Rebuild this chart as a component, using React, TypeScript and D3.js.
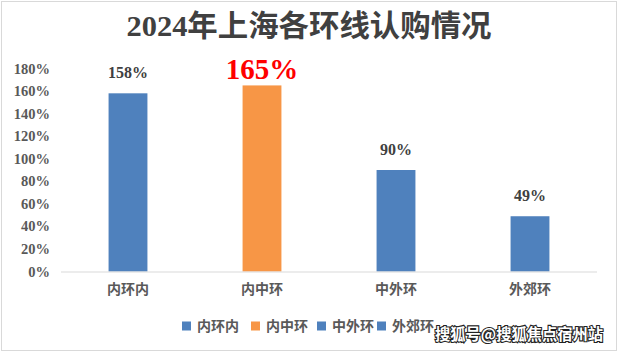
import React from "react";
import * as d3 from "d3";

const title = "2024年上海各环线认购情况";
const categories = ["内环内", "内中环", "中外环", "外郊环"];
const values = [158, 165, 90, 49];
const barColors = ["#4f81bd", "#f79646", "#4f81bd", "#4f81bd"];
const yTicks = [0, 20, 40, 60, 80, 100, 120, 140, 160, 180];
const watermark = "搜狐号@搜狐焦点宿州站";

const W = 618;
const H = 352;
const serif = "'Liberation Serif', 'Times New Roman', 'Noto Sans CJK SC', serif";
const cjk = "'Noto Sans CJK SC', sans-serif";

const App = () => {
  const x = d3.scaleBand()
    .domain(categories)
    .range([61, 597])
    .paddingInner(0.71)
    .paddingOuter(0.355);

  const y = d3.scaleLinear()
    .domain([0, 180])
    .range([271.5, 68.5]);

  const legendX = [182, 251, 317, 377];

  return (
    <svg width={W} height={H} style={{ position: "absolute", left: 0, top: 0 }}>
      <rect x={0} y={0} width={W} height={H} fill="#fff" />
      <rect x={1.5} y={1.5} width={W - 3} height={H - 3} fill="none" stroke="#d9d9d9" />

      <text x={309} y={35.5} textAnchor="middle" fontFamily={serif} fontWeight="bold"
        fontSize={30} fill="#404040" textLength={365} lengthAdjust="spacingAndGlyphs">{title}</text>

      {yTicks.map((t) => (
        <text key={t} x={50} y={y(t)} dy="0.35em" textAnchor="end" fontFamily={serif}
          fontWeight="bold" fontSize={14.5} fill="#595959">{t}%</text>
      ))}

      {categories.map((c, i) => (
        <rect key={c} x={x(c)} y={y(values[i])} width={x.bandwidth()}
          height={y(0) - y(values[i])} fill={barColors[i]} />
      ))}

      <line x1={61} x2={597} y1={272} y2={272} stroke="#d9d9d9" strokeWidth={1} />

      {categories.map((c, i) => {
        const big = i === 1;
        return (
          <text key={c} x={(x(c) ?? 0) + x.bandwidth() / 2}
            y={y(values[i]) - (big ? 6.5 : 15.5)} textAnchor="middle" fontFamily={serif}
            fontWeight="bold" fontSize={big ? 29 : 16} fill={big ? "#ff0000" : "#404040"}>
            {values[i]}%
          </text>
        );
      })}

      {categories.map((c) => (
        <text key={c} x={(x(c) ?? 0) + x.bandwidth() / 2} y={289} dy="0.35em"
          textAnchor="middle" fontFamily={cjk} fontWeight="bold" fontSize={14}
          fill="#595959">{c}</text>
      ))}

      {categories.map((c, i) => (
        <g key={c} transform={`translate(${legendX[i]},326)`}>
          <rect x={0} y={-4.5} width={9} height={9} fill={barColors[i]} />
          <text x={15} y={0} dy="0.35em" fontFamily={cjk} fontWeight="bold"
            fontSize={14} fill="#595959">{c}</text>
        </g>
      ))}

      <text x={435} y={335} dy="0.35em" fontFamily={cjk} fontWeight="bold" fontSize={15.5}
        fill="#fff" stroke="#222" strokeWidth={2.2} paintOrder="stroke"
        textLength={168} lengthAdjust="spacingAndGlyphs">{watermark}</text>
    </svg>
  );
};

export default App;
